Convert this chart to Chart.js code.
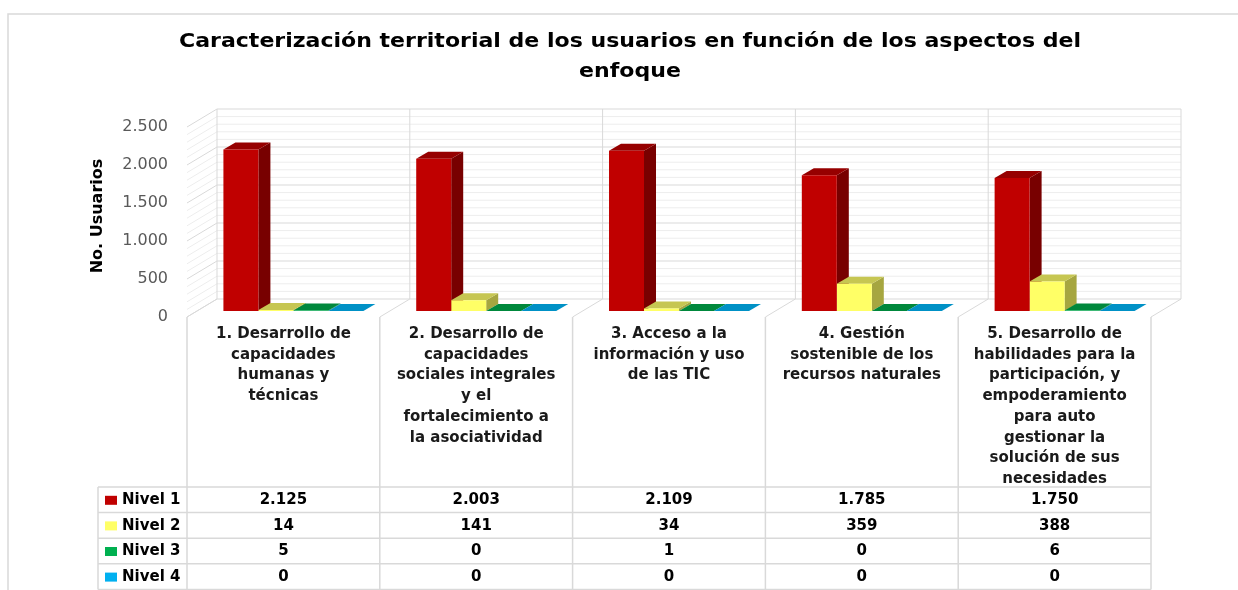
<!DOCTYPE html>
<html>
<head>
<meta charset="utf-8">
<script src="https://cdn.jsdelivr.net/npm/chart.js@4.4.1/dist/chart.umd.min.js"></script>
<style>
  html, body { margin: 0; padding: 0; background: #fff; }
  #wrap { width: 1238px; height: 590px; position: relative; }
</style>
</head>
<body>
<div id="wrap"><canvas id="myChart"></canvas></div>
<script>
// data
const titleLines = ['Caracterización territorial de los usuarios en función de los aspectos del', 'enfoque'];
const categories = [
  ['1. Desarrollo de', 'capacidades', 'humanas y', 'técnicas'],
  ['2. Desarrollo de', 'capacidades', 'sociales integrales', 'y el', 'fortalecimiento a', 'la asociatividad'],
  ['3. Acceso a la', 'información y uso', 'de las TIC'],
  ['4. Gestión', 'sostenible de los', 'recursos naturales'],
  ['5. Desarrollo de', 'habilidades para la', 'participación, y', 'empoderamiento', 'para auto', 'gestionar la', 'solución de sus', 'necesidades']
];
const seriesNames = ['Nivel 1', 'Nivel 2', 'Nivel 3', 'Nivel 4'];
const nivel1 = [2125, 2003, 2109, 1785, 1750];
const nivel2 = [14, 141, 34, 359, 388];
const nivel3 = [5, 0, 1, 0, 6];
const nivel4 = [0, 0, 0, 0, 0];
const yMax = 2500;
const yStep = 500;

// colours: front face, top face, side face
const frontColors = ['#C00000', '#FFFF66', '#00B050', '#00B0F0'];
const topColors   = ['#960000', '#C6C652', '#00883C', '#0091C6'];
const sideColors  = ['#780000', '#A6A640', '#006B30', '#0073A0'];

const fmt = v => String(v).replace(/\B(?=(\d{3})+(?!\d))/g, '.');

const FONT = '"DejaVu Sans", sans-serif';
const BACK = { dx: 20, dy: -12 };   // bar plane -> back wall
const FRONT = { dx: -10, dy: 6 };   // bar plane -> front edge
const BAR3D = { dx: 12, dy: -7 };   // bar depth
const GRID = '#d9d9d9';

const walls = {
  id: 'walls',
  beforeDatasetsDraw(chart) {
    const { ctx, scales: { x, y } } = chart;
    const n = categories.length;
    const w = (x.right - x.left) / n;
    ctx.save();
    ctx.lineWidth = 1;
    // minor then major lines on side wall + back wall
    [false, true].forEach(major => {
      ctx.strokeStyle = major ? GRID : '#ededed';
      for (let v = 0; v <= yMax; v += 100) {
        if ((v % yStep === 0) !== major) continue;
        const py = y.getPixelForValue(v);
        ctx.beginPath();
        ctx.moveTo(x.left + FRONT.dx, py + FRONT.dy);
        ctx.lineTo(x.left + BACK.dx, py + BACK.dy);
        ctx.lineTo(x.right + BACK.dx, py + BACK.dy);
        ctx.stroke();
      }
    });
    ctx.strokeStyle = GRID;
    for (let i = 0; i <= n; i++) {
      const px = x.left + i * w;
      ctx.beginPath();
      ctx.moveTo(px + FRONT.dx, y.bottom + FRONT.dy);
      ctx.lineTo(px + BACK.dx, y.bottom + BACK.dy);
      ctx.lineTo(px + BACK.dx, y.top + BACK.dy);
      ctx.stroke();
    }

    // side and top faces of the bars
    for (let i = 0; i < n; i++) {
      chart.data.datasets.forEach((ds, d) => {
        const el = chart.getDatasetMeta(d).data[i];
        const p = el.getProps(['x', 'y', 'base', 'width'], true);
        const l = p.x - p.width / 2, r = p.x + p.width / 2;
        ctx.fillStyle = sideColors[d];
        ctx.beginPath();
        ctx.moveTo(r, p.y);
        ctx.lineTo(r + BAR3D.dx, p.y + BAR3D.dy);
        ctx.lineTo(r + BAR3D.dx, p.base + BAR3D.dy);
        ctx.lineTo(r, p.base);
        ctx.closePath();
        ctx.fill();
        ctx.fillStyle = topColors[d];
        ctx.beginPath();
        ctx.moveTo(l, p.y);
        ctx.lineTo(l + BAR3D.dx, p.y + BAR3D.dy);
        ctx.lineTo(r + BAR3D.dx, p.y + BAR3D.dy);
        ctx.lineTo(r, p.y);
        ctx.closePath();
        ctx.fill();
      });
    }
    ctx.restore();
  }
};

const tableAndTitle = {
  id: 'tableAndTitle',
  afterDraw(chart) {
    const { ctx, scales: { x, y } } = chart;
    const n = categories.length;
    const w = (x.right - x.left) / n;
    const series = [nivel1, nivel2, nivel3, nivel4];
    ctx.save();

    // outer chart border
    ctx.strokeStyle = GRID;
    ctx.lineWidth = 1.5;
    ctx.strokeRect(8, 14, 1400, 800);

    // title (a bit wider than the font, like the original)
    ctx.save();
    ctx.translate(630, 0);
    ctx.scale(1.16, 1);
    ctx.fillStyle = '#000';
    ctx.font = 'bold 19px ' + FONT;
    ctx.textAlign = 'center';
    ctx.textBaseline = 'alphabetic';
    ctx.fillText(titleLines[0], 0, 47);
    ctx.fillText(titleLines[1], 0, 77);
    ctx.restore();

    // category labels
    ctx.font = 'bold 15px ' + FONT;
    ctx.fillStyle = '#1a1a1a';
    ctx.textAlign = 'center';
    categories.forEach((lines, i) => {
      const cx = x.getPixelForValue(i) + FRONT.dx;
      lines.forEach((t, k) => ctx.fillText(t, cx, 338 + k * 20.7));
    });

    // table grid
    const top = 487, rowH = 25.6, tableLeft = 98;
    const bottom = top + rowH * 4;
    ctx.strokeStyle = GRID;
    ctx.lineWidth = 1.5;
    ctx.beginPath();
    for (let k = 0; k <= 4; k++) {
      ctx.moveTo(tableLeft, top + k * rowH);
      ctx.lineTo(x.right + FRONT.dx, top + k * rowH);
    }
    ctx.moveTo(tableLeft, top);
    ctx.lineTo(tableLeft, bottom);
    for (let i = 0; i <= n; i++) {
      const px = x.left + i * w + FRONT.dx;
      ctx.moveTo(px, y.bottom + FRONT.dy);
      ctx.lineTo(px, bottom);
    }
    ctx.stroke();

    // table rows
    ctx.textBaseline = 'middle';
    series.forEach((vals, k) => {
      const cy = top + (k + 0.5) * rowH + 0.5;
      ctx.fillStyle = frontColors[k];
      ctx.fillRect(105, cy - 4.5, 12, 9);
      ctx.fillStyle = '#000';
      ctx.textAlign = 'left';
      ctx.fillText(seriesNames[k], 122, cy);
      ctx.textAlign = 'center';
      vals.forEach((v, i) => ctx.fillText(fmt(v), x.getPixelForValue(i) + FRONT.dx, cy));
    });
    ctx.restore();
  }
};

const data = {
  labels: categories,
  datasets: seriesNames.map((name, d) => ({
    label: name,
    data: [nivel1, nivel2, nivel3, nivel4][d],
    backgroundColor: frontColors[d],
    borderWidth: 0,
    categoryPercentage: 0.726,
    barPercentage: 1
  }))
};

const config = {
  type: 'bar',
  data,
  options: {
    responsive: true,
    maintainAspectRatio: false,
    animation: false,
    events: [],
    layout: { padding: { left: 84, top: 121, right: 77, bottom: 279 } },
    scales: {
      x: { display: false },
      y: {
        min: 0,
        max: yMax,
        afterFit: s => { s.width = 113; },
        border: { display: false },
        grid: { display: false, drawTicks: false },
        ticks: {
          stepSize: yStep,
          padding: 29,
          labelOffset: FRONT.dy,
          color: '#595959',
          font: { family: FONT, size: 16 },
          callback: v => fmt(v)
        },
        title: {
          display: true,
          text: 'No. Usuarios',
          color: '#000',
          font: { family: FONT, size: 16, weight: 'bold' },
          padding: { top: 4, bottom: 4 }
        }
      }
    },
    plugins: {
      legend: { display: false },
      tooltip: { enabled: false },
      title: { display: false }
    }
  },
  plugins: [walls, tableAndTitle]
};

const myChart = new Chart(document.getElementById('myChart'), config);
</script>
</body>
</html>
